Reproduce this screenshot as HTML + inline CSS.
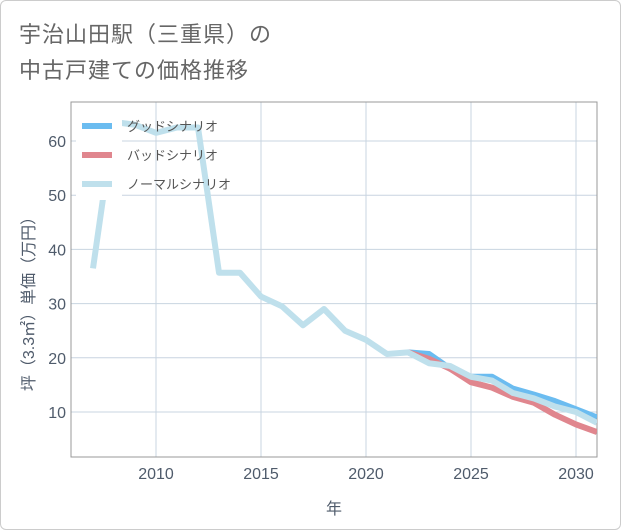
<!DOCTYPE html>
<html><head><meta charset="utf-8"><style>
body{margin:0;background:#fff;width:621px;height:530px;overflow:hidden;font-family:"Liberation Sans","Noto Sans CJK JP",sans-serif;}
.card{position:absolute;left:0;top:0;width:619px;height:528px;border:1px solid #ccc;border-radius:6px;}
.title{position:absolute;left:19px;top:17px;font-size:22px;line-height:36px;color:#666;letter-spacing:1px;}
</style></head><body>
<div class="card"></div>
<div class="title">宇治山田駅（三重県）の<br>中古戸建ての価格推移</div>
<svg id="chart" width="621" height="530" style="position:absolute;left:0;top:0"></svg>
<script>
const years=[2007,2008,2009,2010,2011,2012,2013,2014,2015,2016,2017,2018,2019,2020,2021,2022,2023,2024,2025,2026,2027,2028,2029,2030,2031];
const normal=[36.5,63.5,63,61.5,62.5,62.5,35.7,35.7,31.3,29.5,26,29,25,23.3,20.7,21,19,18.5,16.5,15.8,13.5,12.5,11,10,8];
const futYears=[2022,2023,2024,2025,2026,2027,2028,2029,2030,2031];
const good=[21,20.7,18,16.5,16.5,14.3,13.2,12,10.5,9];
const bad=[21,19.8,18,15.5,14.5,12.8,11.7,9.5,7.7,6.3];
const xTicks=[2010,2015,2020,2025,2030];
const yTicks=[10,20,30,40,50,60];
const L=71,R=597,T=102,B=457;
const x=v=>156+(v-2010)*21;
const y=v=>412-(v-10)*5.42;
const svg=document.getElementById('chart');
const NS='http://www.w3.org/2000/svg';
function mk(t,a){const e=document.createElementNS(NS,t);for(const k in a)e.setAttribute(k,a[k]);svg.appendChild(e);return e;}
xTicks.forEach(v=>{
const g=mk('line',{x1:x(v),x2:x(v),y1:T,y2:B,stroke:'#c8d4e0','stroke-width':1});


const t=mk('text',{x:x(v),y:479,'text-anchor':'middle','font-size':16,fill:'#4f5b6b'});t.textContent=v;


});
yTicks.forEach(v=>{
const g=mk('line',{x1:L,x2:R,y1:y(v),y2:y(v),stroke:'#c8d4e0','stroke-width':1});


const t=mk('text',{x:66,y:y(v)+6,'text-anchor':'end','font-size':16,fill:'#4f5b6b'});t.textContent=v;


});
const fr=mk('rect',{x:L,y:T,width:R-L,height:B-T,fill:'none',stroke:'#999','stroke-width':1});


const cp=mk('clipPath',{id:'cp'});const cr=document.createElementNS(NS,'rect');cr.setAttribute('x',L);cr.setAttribute('y',T);cr.setAttribute('width',R-L);cr.setAttribute('height',B-T);cp.appendChild(cr);
function line(xs,ys,color,name){
const p=mk('polyline',{points:xs.map((v,i)=>x(v)+','+y(ys[i])).join(' '),fill:'none',stroke:color,'stroke-width':6,'stroke-linejoin':'round','clip-path':'url(#cp)'});


}
line(futYears,good,'#6bbcf0','good-scenario-line');
line(futYears,bad,'#e0868e','bad-scenario-line');
line(years,normal,'#bfe0ec','normal-scenario-line');
const lg=mk('rect',{x:76,y:108,width:46,height:92,fill:'#fff'});


[['グッドシナリオ','#6bbcf0'],['バッドシナリオ','#e0868e'],['ノーマルシナリオ','#bfe0ec']].forEach((d,i)=>{
const yy=126+i*29;
const l=mk('line',{x1:82,x2:112,y1:yy,y2:yy,stroke:d[1],'stroke-width':6});


const t=mk('text',{x:127,y:yy+5,'font-size':13,fill:'#555'});t.textContent=d[0];


});
const xt=mk('text',{x:334,y:514,'text-anchor':'middle','font-size':16,fill:'#4f5b6b'});xt.textContent='年';


const yt=mk('text',{x:0,y:0,'text-anchor':'middle','font-size':16,fill:'#4f5b6b',transform:'translate(34,300) rotate(-90)'});yt.textContent='坪（3.3㎡）単価（万円）';


</script>
</body></html>
